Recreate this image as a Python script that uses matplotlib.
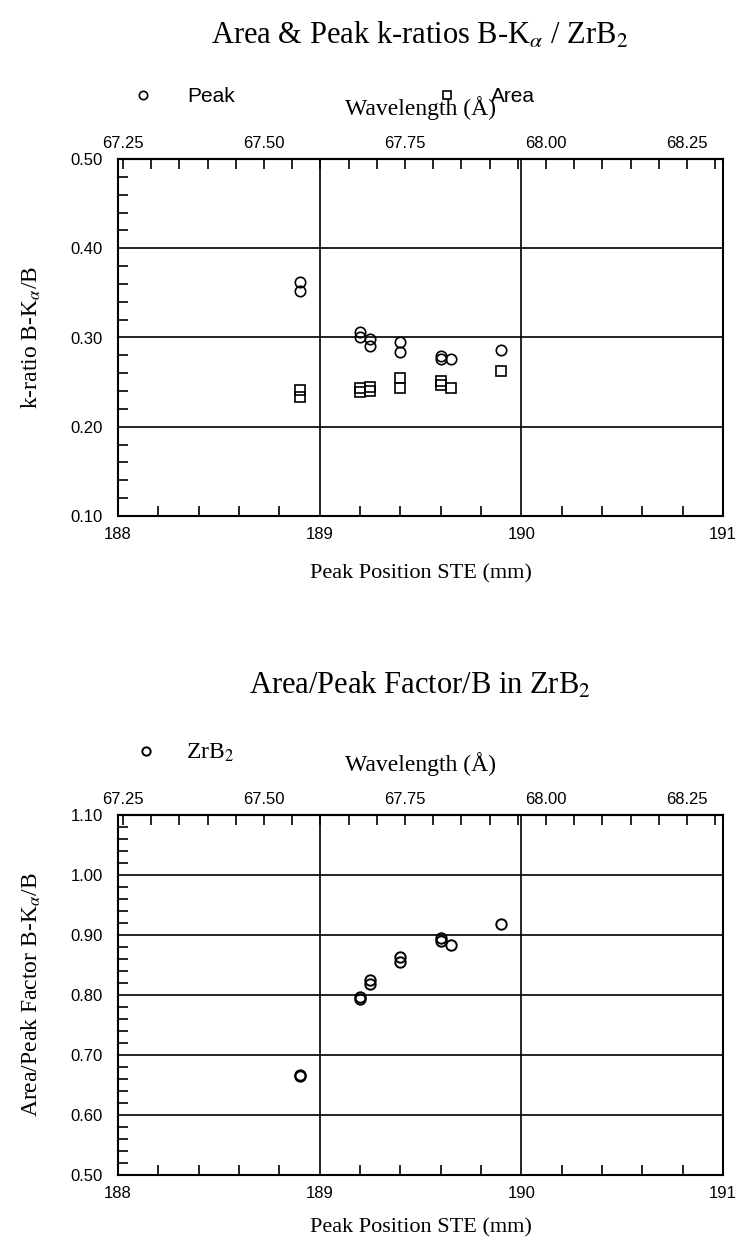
import numpy as np
import matplotlib.pyplot as plt
from matplotlib.ticker import MultipleLocator, FixedLocator, FormatStrFormatter

plt.rcParams['font.family'] = ['Liberation Sans', 'DejaVu Sans']
plt.rcParams['mathtext.fontset'] = 'stix'
serif = ['Liberation Serif', 'DejaVu Serif']

# peak position (mm) of every measurement
pos_mm = [188.9, 188.9, 189.2, 189.2, 189.25, 189.25, 189.4, 189.4, 189.6, 189.6, 189.65, 189.9]
# k-ratios
peak_k = [0.362, 0.352, 0.306, 0.301, 0.298, 0.290, 0.295, 0.284, 0.279, 0.276, 0.276, 0.286]
area_k = [0.241, 0.233, 0.243, 0.239, 0.244, 0.240, 0.255, 0.243, 0.251, 0.247, 0.243, 0.262]
# area/peak factor
apf = [0.667, 0.665, 0.797, 0.794, 0.825, 0.819, 0.863, 0.855, 0.895, 0.890, 0.883, 0.918]

wl_ticks = [67.25, 67.50, 67.75, 68.00, 68.25]

# spectrometer calibration used for the top axis
WL0 = 67.241      # wavelength at 188 mm
WL_PER_MM = 0.3576


def mm_to_wl(x):
    return WL0 + (np.asarray(x) - 188) * WL_PER_MM


def wl_to_mm(w):
    return 188 + (np.asarray(w) - WL0) / WL_PER_MM


def setup(ax, ylim, ylabel, xpad):
    ax.set_xlim(188, 191)
    ax.set_ylim(*ylim)
    ax.xaxis.set_major_locator(MultipleLocator(1))
    ax.xaxis.set_minor_locator(MultipleLocator(0.2))
    ax.yaxis.set_major_locator(MultipleLocator(0.1))
    ax.yaxis.set_minor_locator(MultipleLocator(0.02))
    ax.yaxis.set_major_formatter(FormatStrFormatter('%.2f'))
    ax.grid(True, which='major', color='black', lw=1.2)
    ax.set_axisbelow(True)
    ax.tick_params(which='both', direction='in', top=False, right=False)
    ax.tick_params(which='major', length=0, labelsize=12)
    ax.tick_params(which='minor', length=7, width=1.2)
    ax.tick_params(axis='y', pad=11)
    ax.tick_params(axis='x', pad=8)
    for s in ax.spines.values():
        s.set_linewidth(1.5)
    ax.set_xlabel('Peak Position STE (mm)', family=serif, fontsize=16, labelpad=xpad)
    ax.set_ylabel(ylabel, family=serif, fontsize=17, labelpad=20)

    sec = ax.secondary_xaxis('top', functions=(mm_to_wl, wl_to_mm))
    sec.xaxis.set_major_locator(FixedLocator(wl_ticks))
    sec.xaxis.set_minor_locator(FixedLocator(np.arange(67.25, 68.31, 0.05)))
    sec.xaxis.set_major_formatter(FormatStrFormatter('%.2f'))
    sec.tick_params(which='both', direction='in', length=7, width=1.2, labelsize=12, pad=6)
    sec.spines['top'].set_linewidth(1.5)
    sec.set_xlabel('Wavelength (Å)', family=serif, fontsize=17, labelpad=15)


fig = plt.figure(figsize=(7.39, 12.41), dpi=100)
W, H = 739, 1241

ax1 = fig.add_axes([118 / W, 1 - 516 / H, 605 / W, 357 / H])
ax1.plot(pos_mm, peak_k, 'o', ms=7.5, mfc='none', mec='black', mew=1.2, label='Peak')
ax1.plot(pos_mm, area_k, 's', ms=7.5, mfc='none', mec='black', mew=1.2, label='Area')
setup(ax1, (0.10, 0.50), r'k-ratio B-K$_\alpha$/B', 16)
ax1.legend(loc='center left', bbox_to_anchor=(133 / W, 1 - 97 / H),
           bbox_transform=fig.transFigure, ncol=2, frameon=False, fontsize=15,
           handlelength=1, handletextpad=1.6, columnspacing=9.7,
           borderpad=0, borderaxespad=0, markerscale=0.8)
fig.text(420 / W, 1 - 36 / H, r'Area & Peak k-ratios B-K$_\alpha$ / ZrB$_2$',
         ha='center', va='center', fontsize=22, family=serif)

ax2 = fig.add_axes([118 / W, 1 - 1175 / H, 605 / W, 360 / H])
ax2.plot(pos_mm, apf, 'o', ms=7.5, mfc='none', mec='black', mew=1.4, label='ZrB$_2$')
setup(ax2, (0.50, 1.10), r'Area/Peak Factor B-K$_\alpha$/B', 12)
ax2.legend(loc='center left', bbox_to_anchor=(134 / W, 1 - 753 / H),
           bbox_transform=fig.transFigure, frameon=False,
           prop={'family': serif, 'size': 17},
           handlelength=1, handletextpad=1.2,
           borderpad=0, borderaxespad=0, markerscale=0.8)
fig.text(420 / W, 1 - 686 / H, 'Area/Peak Factor/B in ZrB$_2$',
         ha='center', va='center', fontsize=22, family=serif)

fig.savefig('out.png', dpi=100)
